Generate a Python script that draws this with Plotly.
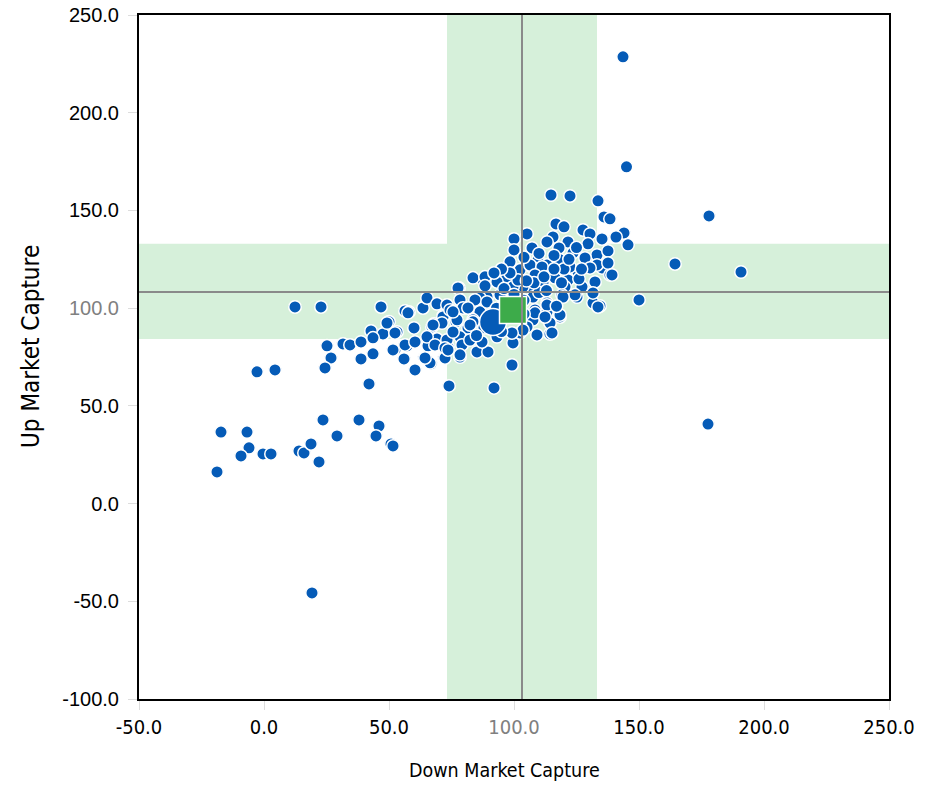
import plotly.graph_objects as go

# Peer funds: (Down Market Capture, Up Market Capture)
peer_points = [
    (143.6,228.6),(145,172.3),(114.8,157.9),(122.4,157.4),(133.6,154.9),(178,147.2),(164.4,122.6),
    (190.8,118.5),(150,104.2),(177.6,40.7),(136,146.7),(138.4,145.7),(144,138.5),(140.8,136.4),
    (145.6,132.4),(134.4,101.1),
    (12.4,100.6),(22.8,100.6),(46.8,100.6),(56.4,98.6),(58,98),(63.6,100.1),(65.2,105.2),(69.2,102.2),
    (78,110.3),(50,93),(42.8,88.3),(47.6,86.8),(53.2,87.8),(60,89.9),(68,91.9),(71.6,96),(76.8,93),
    (25.2,80.7),(31.6,81.7),(34.4,81.2),(38.8,82.7),(43.6,84.8),(52.4,78.6),(57.2,80.7),(56,74),
    (60.4,68.4),(64,74.5),(66.8,71.5),(72,74.5),(78.4,75),(65.6,80.7),(69.2,84.2),(73.6,80.2),
    (79.2,82.7),(26.8,74.5),(24.4,69.4),(38.8,74),(43.6,76.6),(-2.8,67.4),(4.4,68.4),(42,61.2),
    (74,60.2),(23.6,42.8),(38,42.8),(46,39.7),(44.8,34.6),(29.2,34.6),(50.8,30.5),(51.6,29.5),
    (-17.2,36.6),(-6.8,36.6),(-6,28.5),(-9.2,24.4),(-0.4,25.4),(2.8,25.4),(14,26.9),(16,25.9),
    (18.8,30.5),(22,21.3),(-18.8,16.2),(19.2,-45.7),
    (116.8,143.1),(120,141.6),(105.2,138),(100,135.4),(127.6,140),(130.4,138),(135.2,135.4),
    (115.6,136.4),(121.6,133.9),(113.2,133.9),(107.2,130.8),(100,129.8),(98.4,123.7),(109.6,124.7),
    (118,130.8),(123.6,128.3),(128.8,125.2),(133.2,127.2),(137.6,129.3),(135.2,120.6),(138.4,117),
    (125.6,118.5),(118.4,124.7),(113.2,122.1),(107.2,121.1),(102.4,119.6),(97.2,116),(93.2,113.4),
    (87.6,114.4),(83.6,115.5),(77.6,110.3),(115.6,116),(121.6,114.4),(132.4,113.4),(127.2,110.9),
    (120.4,110.9),(111.6,112.9),(107.6,110.3),(103.6,110.9),(99.6,110.9),(94.4,106.8),(89.2,105.7),
    (86.4,105.2),(78.4,104.2),(73.2,101.6),(107.6,105.7),(113.2,102.7),(119.2,106.8),(125.2,105.7),
    (131.6,102.7),(133.6,100.6),(108.4,99.1),(113.2,98.1),(118.4,95.5),(107.6,94),(105.2,90.4),
    (102.4,87.3),(99.6,82.2),(109.2,86.3),(114.4,86.8),(99.2,70.9),(86.4,98.1),(83.6,94),(81.6,89.9),
    (78.4,85.3),(73.2,83.7),(77.2,94),(71.6,95.5),(67.2,90.4),(65.2,85.3),(68.4,81.2),(72.4,79.6),
    (79.2,81.2),(85.2,77.6),(89.6,77.6),(87.2,82.7),(93.2,85.3),(78.4,76.1),(72.4,74.5),(66.4,72),
    (51.6,78.6),(56.4,81.2),(52.4,87.3),(49.2,92.4),(57.6,97.6),(74.4,99.1),(79.6,100.1),(114.4,92.4),
    (88.4,116),(101.6,114.4),(106.4,122.1),(111.2,121.1),(108.4,117),(88.4,111.4),(98.4,118),
    (84.4,104.2),(89.2,103.2),(113.2,101.6),(108.4,97.6),(112.4,95.5),(103.6,88.8),(99.2,87.3),
    (83.6,93),(92,59.2),(129.6,132.9),(128.4,125.7),(133.2,122.1),(137.6,123.1),(139.2,117),
    (130.4,120.6),(122.4,121.1),(116.4,115.5),(131.6,107.8),(124.4,106.8),(119.6,105.7),(118.4,96.5),
    (115.2,87.3),(75.6,98.1),(81.6,100.1),(71.2,92.4),(67.6,91.4),(75.6,87.8),(82.4,91.4),(82.4,83.7),
    (60.4,82.7),(73.6,78.6),(64.4,74.5),
    (95,120),(92,118),(104,126),(110,128),(116,127),(125,131),(120,120),(126,115),(110,108),
    (104,104),(96,102),(93,100),(97,96),(88,90),(92,92),(95,88),(85,86),(104,97),(117,101),
    (108,113),(112,116),(105,114),(96,110),(100,107),(116,120),(122,125),(127,120),(119,113),(113,109),
]
peer_down = [p[0] for p in peer_points]
peer_up = [p[1] for p in peer_points]

# Highlighted fund (large circle) and benchmark (green square)
fund_down, fund_up = [91.6], [92.9]
bench_down, bench_up = [99.6], [99.1]

# Reference bands and median lines
x_band = (73.2, 133.2)
y_band = (84.2, 132.9)
x_median = 103.2
y_median = 108.3

x_ticks = [-50, 0, 50, 100, 150, 200, 250]
y_ticks = [-100, -50, 0, 50, 100, 150, 200, 250]

def tick_text(vals):
    out = []
    for v in vals:
        s = f"{v:.1f}"
        if v == 100:
            s = f'<span style="color:#808080">{s}</span>'
        out.append(s)
    return out

blue = "#055bb7"
green_band = "#d6f0da"
narrow = "DejaVu Sans Condensed, Liberation Sans Narrow, sans-serif"

fig = go.Figure()
fig.add_trace(go.Scatter(
    x=peer_down, y=peer_up, mode="markers",
    marker=dict(size=12.5, color=blue, line=dict(color="white", width=1.5)),
    showlegend=False, hoverinfo="x+y"))
fig.add_trace(go.Scatter(
    x=fund_down, y=fund_up, mode="markers",
    marker=dict(size=27, color=blue, line=dict(color="white", width=1.5)),
    showlegend=False))
fig.add_trace(go.Scatter(
    x=bench_down, y=bench_up, mode="markers",
    marker=dict(size=27, symbol="square", color="#3dab4a", line=dict(color="white", width=1.5)),
    showlegend=False))

fig.add_shape(type="rect", xref="x", yref="paper", x0=x_band[0], x1=x_band[1], y0=0, y1=1,
              fillcolor=green_band, line=dict(width=0), layer="below")
fig.add_shape(type="rect", xref="paper", yref="y", x0=0, x1=1, y0=y_band[0], y1=y_band[1],
              fillcolor=green_band, line=dict(width=0), layer="below")
fig.add_shape(type="line", xref="x", yref="paper", x0=x_median, x1=x_median, y0=0, y1=1,
              line=dict(color="#8a8a8a", width=2), layer="above")
fig.add_shape(type="line", xref="paper", yref="y", x0=0, x1=1, y0=y_median, y1=y_median,
              line=dict(color="#8a8a8a", width=2), layer="above")

# Axis titles as annotations for exact placement
fig.add_annotation(text="Down Market Capture", xref="paper", yref="paper", x=0.487, y=-0.105,
                   xanchor="center", yanchor="middle", showarrow=False,
                   font=dict(family=narrow, size=19.5, color="black"))
fig.add_annotation(text="Up Market Capture", xref="paper", yref="paper", x=-0.145, y=0.515,
                   xanchor="center", yanchor="middle", showarrow=False, textangle=-90,
                   font=dict(family=narrow, size=24, color="black"))

fig.update_layout(
    width=930, height=785,
    margin=dict(l=139, r=41, t=15, b=86, autoexpand=False),
    plot_bgcolor="white", paper_bgcolor="white",
    xaxis=dict(range=[-50, 250], tickvals=x_ticks, ticktext=tick_text(x_ticks), automargin=False,
               showgrid=False, zeroline=False, showline=True, linecolor="black", linewidth=2,
               mirror=True, ticks="outside", ticklen=9, tickcolor="#dddddd", tickwidth=1,
               ticklabelstandoff=0,
               tickfont=dict(family=narrow, size=20, color="black")),
    yaxis=dict(range=[-100, 250], tickvals=y_ticks, ticktext=tick_text(y_ticks), automargin=False,
               showgrid=False, zeroline=False, showline=True, linecolor="black", linewidth=2,
               mirror=True, ticks="outside", ticklen=9, tickcolor="#dddddd", tickwidth=1,
               ticklabelstandoff=5,
               tickfont=dict(family="Liberation Sans, Arial, sans-serif", size=20, color="black")),
)

fig.write_html("out.html", config={"displayModeBar": False},
               post_script="document.body.style.margin='0';")
